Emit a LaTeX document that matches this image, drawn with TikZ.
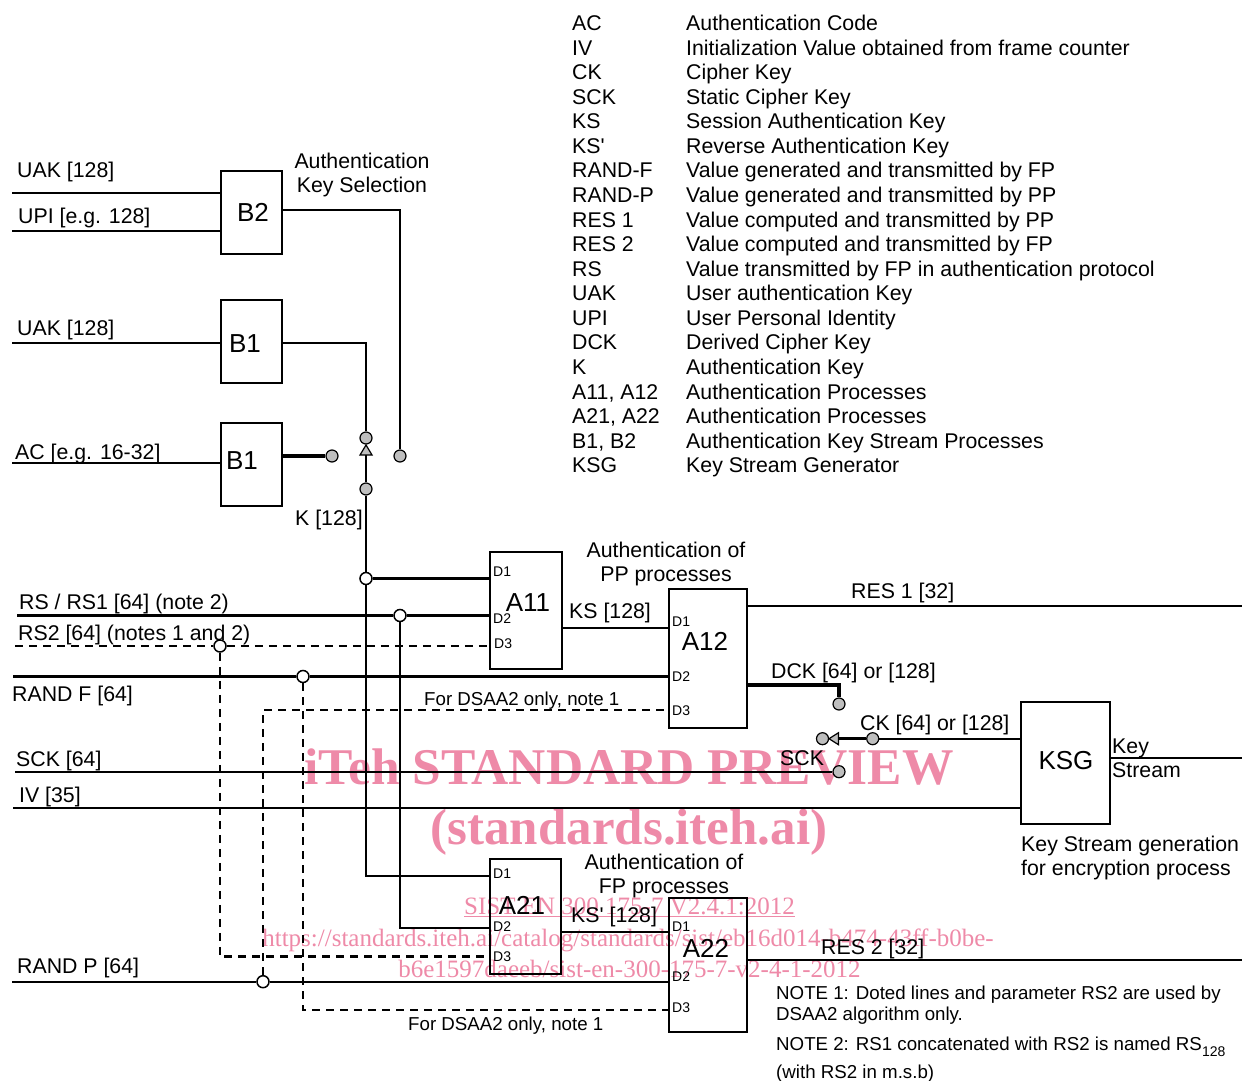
\documentclass[tikz,border=0pt]{standalone}
\usepackage{fontspec}
\setmainfont{Liberation Sans}
\newfontfamily\wmfont{Liberation Serif}
\definecolor{wm}{RGB}{238,138,168}
\definecolor{dotgray}{RGB}{190,190,190}
\begin{document}
\begin{tikzpicture}[x=1pt,y=-1pt,
  wire/.style={line width=2.2pt},
  fatwire/.style={line width=3.4pt},
  dwire/.style={line width=2.2pt,dash pattern=on 8pt off 6pt},
  blk/.style={draw,line width=1.5pt,inner sep=0pt},
  gdot/.style={circle,draw,fill=dotgray,line width=1.2pt,minimum size=12pt,inner sep=0pt},
  wdot/.style={circle,draw,fill=white,line width=1.5pt,minimum size=12pt,inner sep=0pt},
  txt/.style={font=\fontsize{21.3}{24}\selectfont,inner sep=0pt,text height=15.2pt,text depth=0pt,anchor=west},
  notetxt/.style={font=\fontsize{18.7}{22}\selectfont,inner sep=0pt,text height=13.4pt,text depth=0pt,anchor=west},
  porttxt/.style={font=\fontsize{14}{16}\selectfont,inner sep=0pt,text height=10pt,text depth=0pt,anchor=west},
  bigtxt/.style={font=\fontsize{26}{30}\selectfont,inner sep=0pt,text height=18.6pt,text depth=0pt},
  wmk/.style={text=wm,inner sep=0pt,text depth=0pt},
]
\useasboundingbox (0,0) rectangle (1242,1081);

% watermark
\node[wmk,font={\wmfont\bfseries\fontsize{51.5}{55}\selectfont},text height=33.8pt] (wm1) at (629,768) {iTeh STANDARD PREVIEW};
\node[wmk,font={\wmfont\bfseries\fontsize{51}{55}\selectfont},text height=33.8pt] (wm2) at (629,828) {(standards.iteh.ai)};
\node[wmk,font={\wmfont\fontsize{25}{28}\selectfont},text height=16.5pt] (wm3) at (629.5,906) {\underline{SIST EN 300 175-7 V2.4.1:2012}};
\node[wmk,font={\wmfont\fontsize{25}{28}\selectfont},text height=16.5pt] (wm4) at (628,938) {https://standards.iteh.ai/catalog/standards/sist/eb16d014-b474-43ff-b0be-};
\node[wmk,font={\wmfont\fontsize{25}{28}\selectfont},text height=16.5pt] (wm5) at (629.5,969) {b6e1597daeeb/sist-en-300-175-7-v2-4-1-2012};

% legend
\foreach \i/\a/\b in {0/AC/Authentication Code,
  1/IV/Initialization Value obtained from frame counter,
  2/CK/Cipher Key,
  3/SCK/Static Cipher Key,
  4/KS/Session Authentication Key,
  5/KS\textquotesingle/Reverse Authentication Key,
  6/RAND-F/Value generated and transmitted by FP,
  7/RAND-P/Value generated and transmitted by PP,
  8/RES 1/Value computed and transmitted by PP,
  9/RES 2/Value computed and transmitted by FP,
  10/RS/Value transmitted by FP in authentication protocol,
  11/UAK/User authentication Key,
  12/UPI/User Personal Identity,
  13/DCK/Derived Cipher Key,
  14/K/Authentication Key,
  15/{A11, A12}/Authentication Processes,
  16/{A21, A22}/Authentication Processes,
  17/{B1, B2}/Authentication Key Stream Processes,
  18/KSG/Key Stream Generator}{
  \node[txt] (ab\i) at (572,23+\i*24.56) {\a};
  \node[txt] (de\i) at (686,23+\i*24.56) {\b};
}

% boxes
\node[blk,minimum width=61pt,minimum height=83pt] (B2) at (251.5,212.5) {};
\node[bigtxt] (B2t) at (253,212) {B2};
\node[blk,minimum width=61pt,minimum height=83pt] (B1a) at (251.5,341.5) {};
\node[bigtxt] (B1at) at (245,343) {B1};
\node[blk,minimum width=61pt,minimum height=83pt] (B1b) at (251.5,464.5) {};
\node[bigtxt] (B1bt) at (242,460) {B1};
\node[blk,minimum width=72pt,minimum height=117pt] (A11) at (526,610.5) {};
\node[bigtxt] (A11t) at (528,602) {A11};
\node[blk,minimum width=78pt,minimum height=139pt] (A12) at (708,658.5) {};
\node[bigtxt] (A12t) at (705,641) {A12};
\node[blk,minimum width=71pt,minimum height=115pt] (A21) at (525.5,916.5) {};
\node[bigtxt] (A21t) at (522,905) {A21};
\node[blk,minimum width=78pt,minimum height=134pt] (A22) at (708,965) {};
\node[bigtxt] (A22t) at (706,948) {A22};
\node[blk,minimum width=89pt,minimum height=122pt] (KSG) at (1065.5,763) {};
\node[bigtxt] (KSGt) at (1066,760) {KSG};

% port labels
\node[porttxt] (a11p1) at (493,571) {D1};
\node[porttxt] (a11p2) at (493,618) {D2};
\node[porttxt] (a11p3) at (494,643) {D3};
\node[porttxt] (a12p1) at (672,621) {D1};
\node[porttxt] (a12p2) at (672,676) {D2};
\node[porttxt] (a12p3) at (672,710) {D3};
\node[porttxt] (a21p1) at (493,873) {D1};
\node[porttxt] (a21p2) at (493,926) {D2};
\node[porttxt] (a21p3) at (493,956) {D3};
\node[porttxt] (a22p1) at (672,926) {D1};
\node[porttxt] (a22p2) at (672,976) {D2};
\node[porttxt] (a22p3) at (672,1007) {D3};

% dots
\node[gdot] (s1) at (366,438) {};
\node[gdot] (s2) at (366,489) {};
\node[gdot] (s3) at (400,456) {};
\node[gdot] (s4) at (332,456) {};
\node[gdot] (dk) at (839,704) {};
\node[gdot] (ckr) at (872.7,738.7) {};
\node[gdot] (ckl) at (822.5,738.7) {};
\node[gdot] (sk) at (839,771.7) {};
\node[wdot] (k1) at (366,578.5) {};
\node[wdot] (r1) at (400,615.5) {};
\node[wdot] (r2) at (220,646) {};
\node[wdot] (rf) at (303,676.5) {};
\node[wdot] (rp) at (263,981.7) {};

% switch triangles
\draw[fill=dotgray,line width=1.2pt] (360,455) -- (372,455) -- (366,445) -- cycle;
\coordinate (t1) at (366,455);
\draw[fill=dotgray,line width=1.2pt] (838.5,732.7) -- (838.5,744.7) -- (829,738.7) -- cycle;
\coordinate (t2) at (838.5,738.7);

% end points
\coordinate (iUAK1) at (12,193);
\coordinate (iUPI) at (12,231);
\coordinate (iUAK2) at (12,343);
\coordinate (iAC) at (12,463);
\coordinate (iRS) at (17,615.5);
\coordinate (iRS2) at (15,646);
\coordinate (iRF) at (13,676.5);
\coordinate (iSCK) at (15,771.7);
\coordinate (iIV) at (13,807.7);
\coordinate (iRP) at (12,981.7);
\coordinate (oRES1) at (1242,606);
\coordinate (oKS) at (1242,757.7);
\coordinate (oRES2) at (1242,960);
\coordinate (B2o) at (282,210);
\coordinate (B1ao) at (282,343);
\coordinate (B1bo) at (282,456);
\coordinate (A21d1) at (490,875.7);
\coordinate (A21d2) at (490,927.7);
\coordinate (A21d3) at (490,956.5);
\coordinate (A22d3) at (669,1010);
\coordinate (A12d3) at (669,710);
\coordinate (A11ks) at (562,627.7);
\coordinate (A12r1) at (747,606);
\coordinate (A12dck) at (747,685);
\coordinate (KSGck) at (1021,738.7);
\coordinate (KSGo) at (1110,757.7);
\coordinate (A21ks) at (561,931.9);
\coordinate (A22r2) at (747,960);

% wires
\draw[wire] (iUAK1) -- (iUAK1 -| B2.west);
\draw[wire] (iUPI) -- (iUPI -| B2.west);
\draw[wire] (iUAK2) -- (iUAK2 -| B1a.west);
\draw[wire] (iAC) -- (iAC -| B1b.west);
\draw[wire] (B2o) -- (B2o -| s3) -- (s3);
\draw[wire] (B1ao) -- (B1ao -| s1) -- (s1);
\draw[fatwire] (B1bo) -- (s4);
\draw[wire] (t1) -- (s2);
\draw[wire] (s2) -- (k1) -- (k1 |- A21d1) -- (A21d1);
\draw[wire] (k1) -- (k1 -| A11.west);
\draw[wire] (iRS) -- (r1) -- (r1 -| A11.west);
\draw[wire] (r1) -- (r1 |- A21d2) -- (A21d2);
\draw[dwire] (iRS2) -- (r2) -- (r2 -| A11.west);
\draw[dwire] (r2) -- (r2 |- A21d3) -- (A21d3);
\draw[wire] (iRF) -- (rf) -- (rf -| A12.west);
\draw[dwire] (rf) -- (rf |- A22d3) -- (A22d3);
\draw[wire] (iRP) -- (rp) -- (rp -| A22.west);
\draw[dwire] (rp) -- (rp |- A12d3) -- (A12d3);
\draw[wire] (iSCK) -- (sk);
\draw[wire] (iIV) -- (iIV -| KSG.west);
\draw[wire] (A11ks) -- (A11ks -| A12.west);
\draw[wire] (A12r1) -- (oRES1);
\draw[fatwire] (A12dck) -- (A12dck -| dk) -- (dk);
\draw[wire] (KSGck) -- (ckr);
\draw[fatwire] (ckr) -- (t2);
\draw[wire] (KSGo) -- (oKS);
\draw[wire] (A21ks) -- (A21ks -| A22.west);
\draw[wire] (A22r2) -- (oRES2);

% labels
\node[txt] (lUAK1) at (17,170) {UAK [128]};
\node[txt] (lUPI) at (18,216) {UPI [e.g. 128]};
\node[txt] (lUAK2) at (17,328) {UAK [128]};
\node[txt] (lAC) at (15,452) {AC [e.g. 16-32]};
\node[txt] (lK) at (295,518) {K [128]};
\node[txt] (lRS) at (19,602) {RS / RS1 [64] (note 2)};
\node[txt] (lRS2) at (18,633) {RS2 [64] (notes 1 and 2)};
\node[txt] (lRF) at (12,694) {RAND F [64]};
\node[txt] (lSCK) at (16,759) {SCK [64]};
\node[txt] (lIV) at (19,795) {IV [35]};
\node[txt] (lRP) at (17,966) {RAND P [64]};
\node[notetxt] (lD1) at (424,699) {For DSAA2 only, note 1};
\node[notetxt] (lD2) at (408,1024) {For DSAA2 only, note 1};
\node[txt] (lKS) at (569,611) {KS [128]};
\node[txt] (lKS2) at (571,915) {KS\textquotesingle{} [128]};
\node[txt] (lRES1) at (851,591) {RES 1 [32]};
\node[txt] (lRES2) at (821,947) {RES 2 [32]};
\node[txt] (lDCK) at (771,671) {DCK [64] or [128]};
\node[txt] (lCK) at (860,723) {CK [64] or [128]};
\node[txt] (lSCK2) at (780,758) {SCK};
\node[txt] (lKey) at (1112,746) {Key};
\node[txt] (lStream) at (1112,770) {Stream};
\node[txt,anchor=center] (hAKS1) at (362,161) {Authentication};
\node[txt,anchor=center] (hAKS2) at (362,185) {Key Selection};
\node[txt,anchor=center] (hPP1) at (666,550) {Authentication of};
\node[txt,anchor=center] (hPP2) at (666,574) {PP processes};
\node[txt,anchor=center] (hFP1) at (664,862) {Authentication of};
\node[txt,anchor=center] (hFP2) at (664,886) {FP processes};
\node[txt] (hKSG1) at (1021,844) {Key Stream generation};
\node[txt] (hKSG2) at (1021,868) {for encryption process};
\node[notetxt] (n1) at (776,993) {NOTE 1: Doted lines and parameter RS2 are used by};
\node[notetxt] (n2) at (776,1014) {DSAA2 algorithm only.};
\node[notetxt] (n3) at (776,1044) {NOTE 2: RS1 concatenated with RS2 is named RS\raisebox{-6pt}{\fontsize{14}{16}\selectfont 128}};
\node[notetxt] (n4) at (776,1072) {(with RS2 in m.s.b)};
\end{tikzpicture}
\end{document}
